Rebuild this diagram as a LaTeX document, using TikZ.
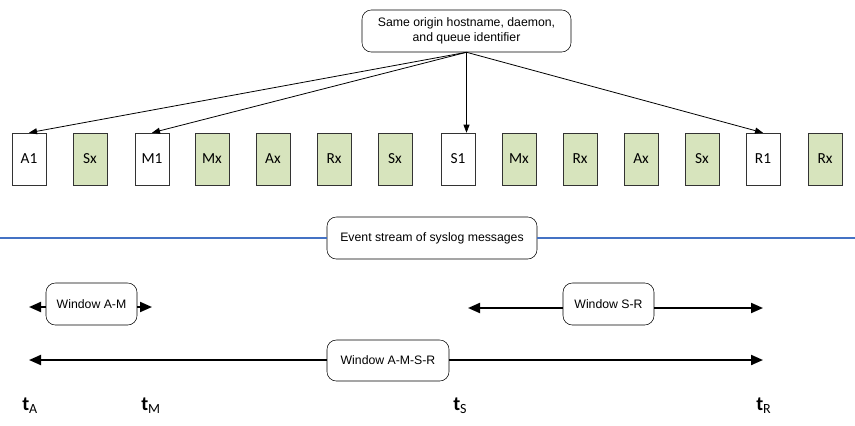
\documentclass[tikz,border=0pt]{standalone}
\usepackage{fontspec}
\setmainfont{Liberation Sans}
\newfontfamily\calibri{Carlito}
\usetikzlibrary{arrows.meta}
\definecolor{msggreen}{RGB}{215,228,189}
\definecolor{streamblue}{RGB}{68,114,196}
\tikzset{
  rbox/.style={draw, rounded corners=7pt, fill=white, align=center, inner sep=0.75pt, font=\fontsize{9.2}{11.25}\selectfont},
  msg/.style={draw=black!80, minimum width=25.5pt, minimum height=39pt, inner sep=0pt, font=\calibri\fontsize{11.5}{12}\selectfont},
  xmsg/.style={msg, fill=msggreen},
  ptr/.style={-{Triangle[length=6pt,width=4.5pt]}, line width=0.6pt},
  warrow/.style={-{Triangle[length=9pt,width=7.5pt]}, line width=1.5pt},
  tlabel/.style={anchor=base west, inner sep=0pt, font=\calibri\fontsize{15}{15}\selectfont}
}
\newcommand{\tsub}[1]{\textbf{t}{\fontsize{10.5}{10.5}\selectfont\raisebox{-2.25pt}{#1}}}
\begin{document}
\begin{tikzpicture}[x=0.75pt,y=0.75pt,yscale=-1,xscale=1]
\useasboundingbox (0,0) rectangle (855,425);

% Source box
\draw (466.5,31) node [rbox, minimum width=156.75pt, minimum height=31.5pt] (src) {Same origin hostname, daemon,\\and queue identifier};

% Message boxes
\draw (29,159) node [msg] (a1) {A1};
\draw (90,159) node [xmsg] (sx1) {Sx};
\draw (152,159) node [msg] (m1) {M1};
\draw (212,159) node [xmsg] (mx1) {Mx};
\draw (273,159) node [xmsg] (ax1) {Ax};
\draw (334,159) node [xmsg] (rx1) {Rx};
\draw (395,159) node [xmsg] (sx2) {Sx};
\draw (458,159) node [msg] (s1) {S1};
\draw (519,159) node [xmsg] (mx2) {Mx};
\draw (580,159) node [xmsg] (rx2) {Rx};
\draw (641,159) node [xmsg] (ax2) {Ax};
\draw (702,159) node [xmsg] (sx3) {Sx};
\draw (763,159) node [msg] (r1) {R1};
\draw (825,159) node [xmsg] (rx3) {Rx};

% Pointers to first messages
\draw [ptr] (src.south) -- (a1.north);
\draw [ptr] (src.south) -- (m1.north);
\draw [ptr] (src.south) -- (src.south |- s1.north);
\draw [ptr] (src.south) -- (r1.north);

% Event stream
\draw (432,238) node [rbox, minimum width=157.5pt, minimum height=31.5pt] (stream) {Event stream of syslog messages};
\coordinate (sl) at (0,238);
\coordinate (sr) at (855,238);
\draw [streamblue, line width=1.9pt] (sl) -- (stream.west |- sl);
\draw [streamblue, line width=1.9pt] (stream.east |- sr) -- (sr);

% Time points
\coordinate (tA1) at (29,307);
\coordinate (tM1) at (152,307);
\coordinate (tS1) at (468,308);
\coordinate (tR1) at (763,308);
\coordinate (tA2) at (29,360);
\coordinate (tR2) at (763,360);

% Windows
\draw (91.5,304) node [rbox, minimum width=68.25pt, minimum height=31.5pt] (wam) {Window A-M};
\draw [warrow] (wam.west |- tA1) -- (tA1);
\draw [warrow] (wam.east |- tM1) -- (tM1);

\draw (608.5,304) node [rbox, minimum width=68.25pt, minimum height=31.5pt] (wsr) {Window S-R};
\draw [warrow] (wsr.west |- tS1) -- (tS1);
\draw [warrow] (wsr.east |- tR1) -- (tR1);

\draw (388,360.5) node [rbox, minimum width=91.5pt, minimum height=30.75pt] (wamsr) {Window A-M-S-R};
\draw [warrow] (wamsr.west |- tA2) -- (tA2);
\draw [warrow] (wamsr.east |- tR2) -- (tR2);

% Text Node
\draw (22,410) node [tlabel] (lA) {\tsub{A}};
% Text Node
\draw (141,410) node [tlabel] (lM) {\tsub{M}};
% Text Node
\draw (453,410) node [tlabel] (lS) {\tsub{S}};
% Text Node
\draw (756,410) node [tlabel] (lR) {\tsub{R}};

\end{tikzpicture}
\end{document}
